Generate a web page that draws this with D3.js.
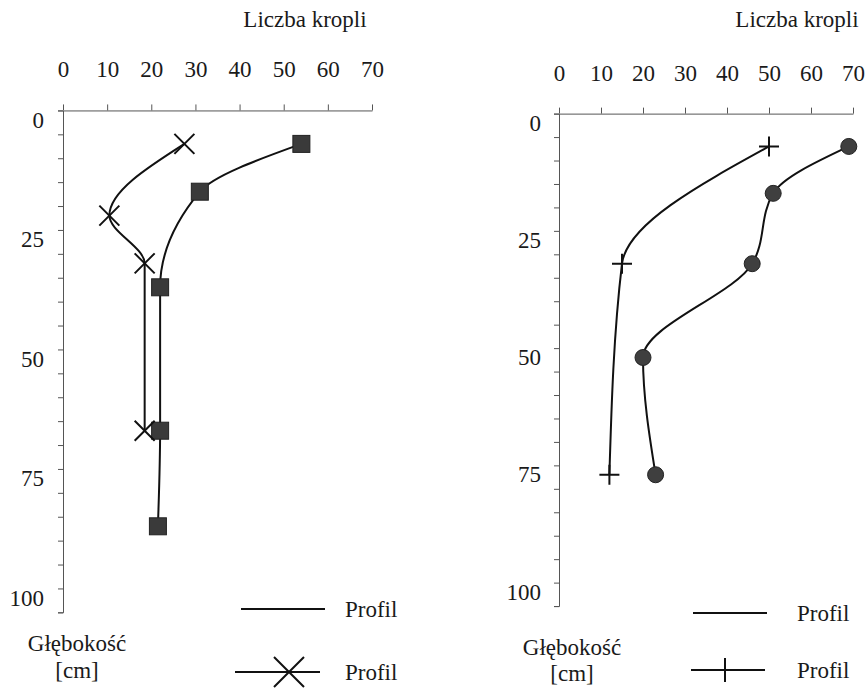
<!DOCTYPE html>
<html>
<head>
<meta charset="utf-8">
<script src="https://cdn.jsdelivr.net/npm/d3@7"></script>
<style>
  body { margin: 0; background: #fff; }
</style>
</head>
<body>
<svg id="chart" width="868" height="688"></svg>
<script>
// drops per depth, read from the two profiles
var xTicks = [0, 10, 20, 30, 40, 50, 60, 70];
var yLabels = [0, 25, 50, 75, 100];
var yTickValues = d3.range(-2, 104, 5);

var leftSquareDepth = [5, 15, 35, 65, 85];
var leftSquareDrops = [54, 31, 22, 22, 21.5];
var leftCrossDepth = [5, 20, 30, 65];
var leftCrossDrops = [27.5, 10.5, 18.5, 18.5];

var rightCircleDepth = [5, 15, 30, 50, 75];
var rightCircleDrops = [69, 51, 46, 20, 23];
var rightPlusDepth = [5, 30, 75];
var rightPlusDrops = [50, 15, 12];

var xTitle = "Liczba kropli";
var yTitle = ["Głębokość", "[cm]"];
var legendLabels = ["Profil", "Profil"];

var FONT = '"Liberation Serif", "DejaVu Serif", "Times New Roman", serif';
var FSIZE = '23px';

var svg = d3.select('#chart');

function zip(xs, ys){ return xs.map(function(v, i){ return {v: v, d: ys[i]}; }); }
function txt(sel){ return sel.style('font-family', FONT).style('font-size', FSIZE).attr('fill', '#1a1a1a'); }

var panels = [
  {x0: 63, x1: 372, y0: 120, y1: 598, labelX: 44, titleX: 305, yTitleX: 77, yTitleY: [643, 670],
   series: [
     {data: zip(leftSquareDrops, leftSquareDepth), marker: 'square'},
     {data: zip(leftCrossDrops, leftCrossDepth), marker: 'x'}
   ],
   legend: {x1: 241, x2: 325, y: [609, 672], textX: 345, marker: 'x', mx: 289, lx1: 235, lx2: 320}},
  {x0: 559, x1: 853, y0: 123, y1: 592, labelX: 541, titleX: 797, yTitleX: 572, yTitleY: [647, 673],
   series: [
     {data: zip(rightCircleDrops, rightCircleDepth), marker: 'circle'},
     {data: zip(rightPlusDrops, rightPlusDepth), marker: 'plus'}
   ],
   legend: {x1: 693, x2: 767, y: [613, 670], textX: 797, marker: 'plus', mx: 725, lx1: 691, lx2: 765}}
];

function drawMarker(g, type, cx, cy, big){
  var s = big ? 15 : 10;
  if(type == 'square'){
    g.append('rect').attr('x', cx - 8.5).attr('y', cy - 8.5).attr('width', 17).attr('height', 17)
      .attr('fill', '#3a3a3a').attr('stroke', '#222').attr('stroke-width', 1);
  } else if(type == 'circle'){
    g.append('circle').attr('cx', cx).attr('cy', cy).attr('r', 8)
      .attr('fill', '#3f3f3f').attr('stroke', '#222').attr('stroke-width', 1);
  } else if(type == 'x'){
    g.append('path').attr('d', 'M' + (cx - s) + ',' + (cy - s) + 'L' + (cx + s) + ',' + (cy + s) +
        'M' + (cx - s) + ',' + (cy + s) + 'L' + (cx + s) + ',' + (cy - s))
      .attr('stroke', '#111').attr('stroke-width', 2).attr('fill', 'none');
  } else {
    var h = big ? 12 : 10;
    g.append('path').attr('d', 'M' + (cx - 10) + ',' + cy + 'L' + (cx + 10) + ',' + cy +
        'M' + cx + ',' + (cy - h) + 'L' + cx + ',' + (cy + h))
      .attr('stroke', '#111').attr('stroke-width', 2).attr('fill', 'none');
  }
}

panels.forEach(function(p){
  var x = d3.scaleLinear().domain([0, 70]).range([p.x0, p.x1]);
  var y = d3.scaleLinear().domain([0, 100]).range([p.y0, p.y1]);
  var yAxisScale = y.copy().domain([-2, 103]).range([y(-2), y(103)]);
  var top = y(-2);
  var g = svg.append('g');

  // top axis
  var xAxis = g.append('g').attr('transform', 'translate(0,' + top + ')')
    .call(d3.axisTop(x).tickValues(xTicks).tickSize(6).tickSizeOuter(0).tickPadding(27));
  txt(xAxis.selectAll('text'));
  xAxis.selectAll('path,line').attr('stroke', '#555');

  // left axis, labels placed separately
  var yAxis = g.append('g').attr('transform', 'translate(' + p.x0 + ',0)')
    .call(d3.axisLeft(yAxisScale).tickValues(yTickValues).tickSize(5).tickSizeOuter(5).tickFormat(''));
  yAxis.selectAll('path,line').attr('stroke', '#555');

  txt(g.selectAll('.ylab').data(yLabels).enter().append('text')
    .attr('x', p.labelX).attr('y', function(d){ return y(d); })
    .attr('text-anchor', 'end').attr('dominant-baseline', 'central')
    .text(function(d){ return d; }));

  txt(g.append('text').attr('x', p.titleX).attr('y', 19).attr('text-anchor', 'middle')
    .attr('dominant-baseline', 'central').text(xTitle));
  yTitle.forEach(function(t, i){
    txt(g.append('text').attr('x', p.yTitleX).attr('y', p.yTitleY[i]).attr('text-anchor', 'middle')
      .attr('dominant-baseline', 'central').text(t));
  });

  var line = d3.line().curve(d3.curveMonotoneY)
    .x(function(d){ return x(d.v); }).y(function(d){ return y(d.d); });

  p.series.forEach(function(s){
    g.append('path').datum(s.data).attr('d', line)
      .attr('fill', 'none').attr('stroke', '#111').attr('stroke-width', 2);
    s.data.forEach(function(d){ drawMarker(g, s.marker, x(d.v), y(d.d)); });
  });

  // legend
  var L = p.legend;
  g.append('line').attr('x1', L.x1).attr('x2', L.x2).attr('y1', L.y[0]).attr('y2', L.y[0])
    .attr('stroke', '#111').attr('stroke-width', 2);
  g.append('line').attr('x1', L.lx1).attr('x2', L.lx2).attr('y1', L.y[1]).attr('y2', L.y[1])
    .attr('stroke', '#111').attr('stroke-width', 2);
  drawMarker(g, L.marker, L.mx, L.y[1], true);
  legendLabels.forEach(function(t, i){
    txt(g.append('text').attr('x', L.textX).attr('y', L.y[i]).attr('dominant-baseline', 'central').text(t));
  });
});
</script>
</body>
</html>
